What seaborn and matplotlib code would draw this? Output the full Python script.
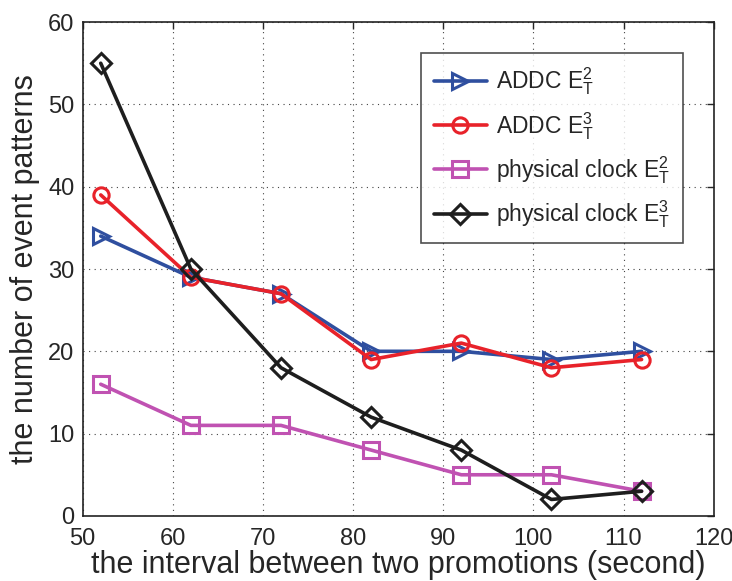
import matplotlib
matplotlib.use("Agg")
import matplotlib.pyplot as plt
import seaborn as sns
import numpy as np

interval = [52, 62, 72, 82, 92, 102, 112]
addc_e2 = [34, 29, 27, 20, 20, 19, 20]
addc_e3 = [39, 29, 27, 19, 21, 18, 19]
phys_e2 = [16, 11, 11, 8, 5, 5, 3]
phys_e3 = [55, 30, 18, 12, 8, 2, 3]

labels = [r"ADDC $\mathregular{E_T^2}$", r"ADDC $\mathregular{E_T^3}$",
          r"physical clock $\mathregular{E_T^2}$", r"physical clock $\mathregular{E_T^3}$"]

sns.set_style("white")
plt.rcParams["font.family"] = ["Liberation Sans", "DejaVu Sans"]
plt.rcParams["mathtext.fontset"] = "custom"
plt.rcParams["mathtext.rm"] = "Liberation Sans"

fig = plt.figure(figsize=(7.32, 5.81), dpi=100)
ax = fig.add_axes([0.113, 0.112, 0.862, 0.850])

series = [
    (addc_e2, "#2f4f9f", ">"),
    (addc_e3, "#e8222a", "o"),
    (phys_e2, "#c052b2", "s"),
    (phys_e3, "#1e1e1e", "D"),
]
for (ys, col, mk), lab in zip(series, labels):
    ms = 11 if mk != "D" else 10
    sns.lineplot(x=interval, y=ys, ax=ax, color=col, marker=mk, lw=2.6,
                 ms=ms, mfc="none", mec=col, mew=2.2, label=lab)

ax.set_xlim(50, 120)
ax.set_ylim(0, 60)
ax.set_xticks(np.arange(50, 121, 10))
ax.set_yticks(np.arange(0, 61, 10))
ax.tick_params(direction="in", labelsize=17, length=5, width=1, top=True, right=True)
ax.tick_params(axis="x", pad=9)
ax.tick_params(axis="y", pad=6)
ax.grid(True, linestyle=(0, (1, 4)), color="#444444", linewidth=0.8)
for s in ax.spines.values():
    s.set_color("#222222")
    s.set_linewidth(1.2)
ax.set_xlabel("the interval between two promotions (second)", fontsize=22, labelpad=0)
ax.set_ylabel("the number of event patterns", fontsize=22, labelpad=6)

leg = ax.legend(loc="upper right", bbox_to_anchor=(0.951, 0.937), borderaxespad=0,
                fontsize=16.5, frameon=True, fancybox=False, edgecolor="#222222",
                handlelength=2.3, handletextpad=0.4, labelspacing=0.55, borderpad=0.55)
leg.get_frame().set_linewidth(1.2)

fig.savefig("out.png", dpi=100)
